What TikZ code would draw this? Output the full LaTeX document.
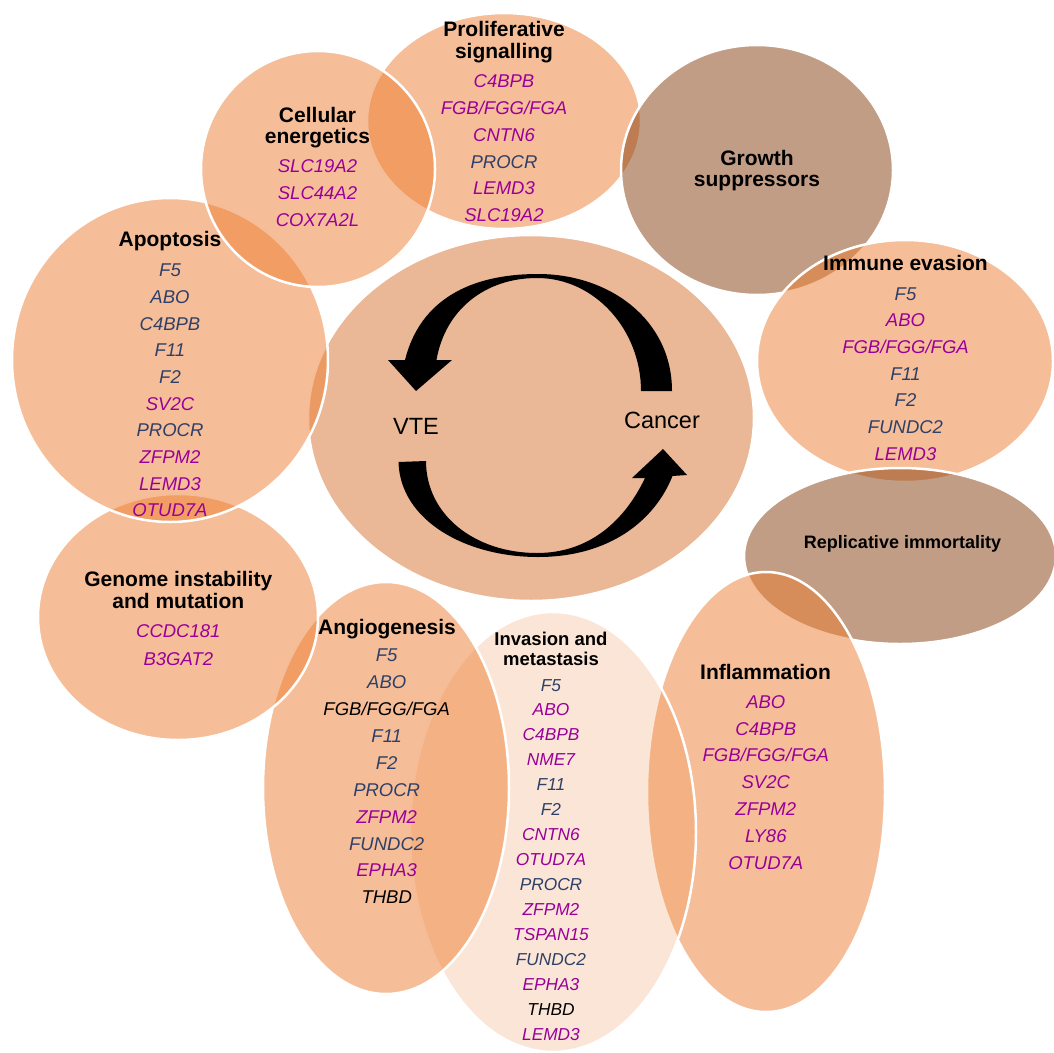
\documentclass[tikz,border=0pt]{standalone}
\usepackage{fontspec}
\setmainfont{Liberation Sans}
\definecolor{acc}{RGB}{237,125,49}
\definecolor{brn}{RGB}{132,60,12}
\definecolor{ctr}{RGB}{234,184,150}
\definecolor{pp}{RGB}{153,0,153}
\definecolor{hb}{RGB}{46,64,104}
\newcommand\FGB{FGB/FGG/FGA}
\newcommand\genelist[6]{%
  \foreach [count=\i] \c/\t in {#6} {%
    \node[#5, text=\c] (#1\i) at (#2, {#3+(\i-1)*#4}) {\t};}}
\tikzset{
  blob/.style={fill=acc, fill opacity=0.5, draw=white, draw opacity=1, line width=2.5pt},
  paleblob/.style={fill=acc, fill opacity=0.2, draw=white, draw opacity=1, line width=2.5pt},
  brownblob/.style={fill=brn, fill opacity=0.5, draw=white, draw opacity=1, line width=2.5pt},
  gene/.style={font=\fontsize{18.5}{20}\selectfont\itshape, anchor=base, inner sep=0pt},
  sgene/.style={font=\fontsize{17.3}{19}\selectfont\itshape, anchor=base, inner sep=0pt},
  head/.style={font=\fontsize{21}{22}\selectfont\bfseries, anchor=base, inner sep=0pt},
  shead/.style={font=\fontsize{18.5}{20}\selectfont\bfseries, anchor=base, inner sep=0pt},
  rhead/.style={font=\fontsize{18}{19}\selectfont\bfseries, anchor=base, inner sep=0pt},
  big/.style={font=\fontsize{23.5}{25}\selectfont, anchor=base, inner sep=0pt},
}
\begin{document}
\begin{tikzpicture}[x=1pt, y=-1pt]
\useasboundingbox (0,0) rectangle (1054,1052);
\clip (0,0) rectangle (1054,1052);
% ellipses, bottom to top
\path[fill=ctr, draw=white, line width=2.5pt] (531,418) ellipse [x radius=223, y radius=183];
\path[blob] (504,121) ellipse [x radius=137, y radius=108];
\path[brownblob] (757,170) ellipse [x radius=136, y radius=125];
\path[blob] (905,361) ellipse [x radius=148, y radius=121];
\path[brownblob] (900,556) ellipse [x radius=156, y radius=88];
\path[blob] (766,792) ellipse [x radius=119, y radius=220];
\path[paleblob] (553,832) ellipse [x radius=143, y radius=220];
\path[blob] (386,788) ellipse [x radius=123, y radius=206];
\path[blob] (178,617) ellipse [x radius=140, y radius=123];
\path[blob] (170,360) ellipse [x radius=158, y radius=162];
\path[blob] (318,169) ellipse [x radius=117, y radius=118];
% cycle arrows
\fill[black] (405,360) .. controls (420,300) and (470,274) .. (538,274)
  .. controls (610,274) and (672,320) .. (672,391) -- (641,391)
  .. controls (641,330) and (595,278) .. (537,278)
  .. controls (485,278) and (445,310) .. (436.5,360)
  -- (452,360) -- (416,391) -- (388,360) -- cycle;
\fill[black] (398.5,462) .. controls (400,520) and (465,557) .. (538,557)
  .. controls (610,557) and (655,520) .. (672.5,476)
  -- (687,475) -- (663,449) -- (632,478) -- (645,478)
  .. controls (625,520) and (590,553) .. (537,553)
  .. controls (475,553) and (426,515) .. (426,461) -- cycle;
\node[big] (vte) at (416,434) {VTE};
\node[big] (cancer) at (662,428.3) {Cancer};
% Proliferative signalling
\node[head] (prolh1) at (504,36) {Proliferative};
\node[head] (prolh2) at (504,58.3) {signalling};
\genelist{prol}{504}{87.3}{26.9}{gene}{pp/C4BPB, pp/\FGB, pp/CNTN6, hb/PROCR, pp/LEMD3, pp/SLC19A2}
% Cellular energetics
\node[head] (cellh1) at (317.5,122.7) {Cellular};
\node[head] (cellh2) at (317.5,143.3) {energetics};
\genelist{cell}{317.5}{172.7}{27}{gene}{pp/SLC19A2, pp/SLC44A2, pp/COX7A2L}
% Growth suppressors
\node[head] (growh1) at (757,165) {Growth};
\node[head] (growh2) at (757,186.7) {suppressors};
% Apoptosis
\node[head] (apoh) at (170,246.7) {Apoptosis};
\genelist{apo}{170}{276.7}{26.67}{gene}{hb/F5, hb/ABO, hb/C4BPB, hb/F11, hb/F2, pp/SV2C, hb/PROCR, pp/ZFPM2, pp/LEMD3, pp/OTUD7A}
% Immune evasion
\node[head] (immh) at (905.5,270) {Immune evasion};
\genelist{imm}{905.5}{300}{26.67}{gene}{hb/F5, pp/ABO, pp/\FGB, hb/F11, hb/F2, hb/FUNDC2, pp/LEMD3}
% Replicative immortality
\node[rhead] (reph) at (902.5,548.3) {Replicative immortality};
% Genome instability
\node[head] (genh1) at (178.3,586.7) {Genome instability};
\node[head] (genh2) at (178.3,608.3) {and mutation};
\genelist{gen}{178.3}{637.7}{27.3}{gene}{pp/CCDC181, pp/B3GAT2}
% Angiogenesis
\node[head] (angh) at (387,634) {Angiogenesis};
\genelist{ang}{386.7}{661.7}{26.9}{gene}{hb/F5, hb/ABO, black/\FGB, hb/F11, hb/F2, hb/PROCR, pp/ZFPM2, hb/FUNDC2, pp/EPHA3, black/THBD}
% Invasion and metastasis
\node[shead] (invh1) at (551,645) {Invasion and};
\node[shead] (invh2) at (551,665) {metastasis};
\genelist{inv}{551}{691}{24.93}{sgene}{hb/F5, pp/ABO, pp/C4BPB, pp/NME7, hb/F11, hb/F2, pp/CNTN6, pp/OTUD7A, hb/PROCR, pp/ZFPM2, pp/TSPAN15, hb/FUNDC2, pp/EPHA3, black/THBD, pp/LEMD3}
% Inflammation
\node[head] (infh) at (765.5,679.3) {Inflammation};
\genelist{inf}{765.8}{708.3}{26.83}{gene}{pp/ABO, pp/C4BPB, pp/\FGB, pp/SV2C, pp/ZFPM2, pp/LY86, pp/OTUD7A}
\end{tikzpicture}
\end{document}
